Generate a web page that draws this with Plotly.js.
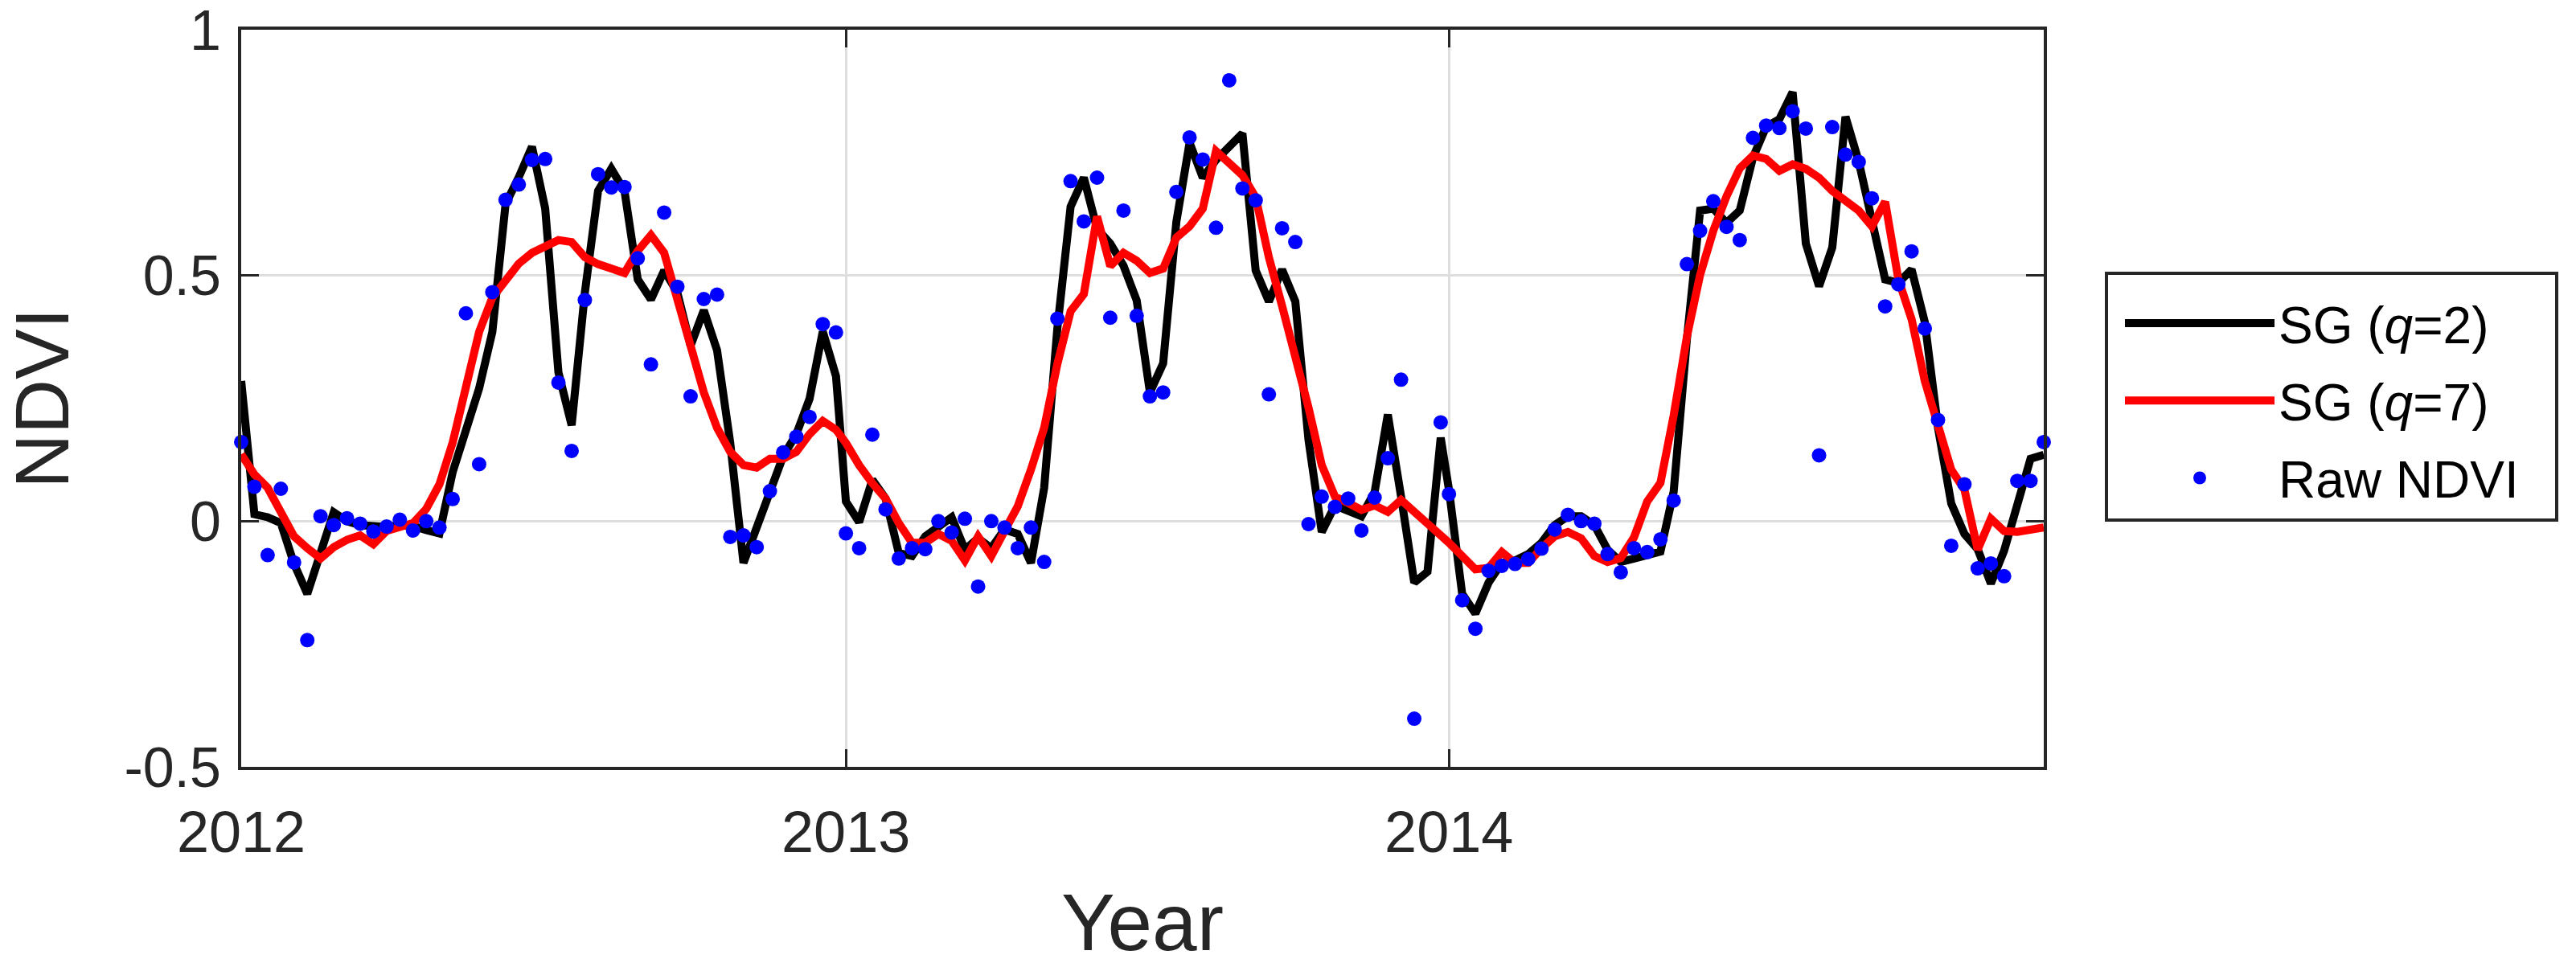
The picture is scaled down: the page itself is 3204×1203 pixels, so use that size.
<!DOCTYPE html>
<html>
<head>
<meta charset="utf-8">
<script src="https://cdn.plot.ly/plotly-3.0.1.min.js"></script>
<style>
  html, body { margin: 0; padding: 0; background: #ffffff; }
  #chart { width: 3204px; height: 1203px; }
</style>
</head>
<body>
<div id="chart"></div>
<script>
// ---- time axis: 8-day composites, 46 per year ----
const years = [2012, 2013, 2014];
const compositeStepDays = 8;
const compositesPerYear = 46;

// ---- Raw NDVI (blue dots), per year ----
const raw2012 = [0.161, 0.070, -0.069, 0.066, -0.084, -0.242, 0.010, -0.008, 0.006, -0.005,
  -0.021, -0.011, 0.003, -0.019, 0.000, -0.013, 0.045, 0.423, 0.116, 0.466,
  0.654, 0.685, 0.735, 0.737, 0.282, 0.143, 0.450, 0.706, 0.679, 0.680,
  0.535, 0.319, 0.628, 0.477, 0.254, 0.452, 0.461, -0.032, -0.029, -0.053,
  0.061, 0.140, 0.172, 0.212, 0.401, 0.384];
const raw2013 = [-0.025, -0.055, 0.176, 0.024, -0.076, -0.055, -0.057, 0.000, -0.023, 0.005,
  -0.133, 0.000, -0.013, -0.055, -0.013, -0.083, 0.412, 0.692, 0.610, 0.699,
  0.414, 0.632, 0.418, 0.254, 0.262, 0.670, 0.781, 0.736, 0.597, 0.897,
  0.677, 0.653, 0.258, 0.596, 0.568, -0.006, 0.050, 0.029, 0.046, -0.019,
  0.048, 0.128, 0.288, -0.402, null, 0.201];
const raw2014 = [0.055, -0.161, -0.219, -0.101, -0.091, -0.087, -0.077, -0.056, -0.017, 0.013,
  0.000, -0.005, -0.067, -0.104, -0.055, -0.063, -0.037, 0.042, 0.523, 0.591,
  0.651, 0.599, 0.572, 0.780, 0.805, 0.800, 0.834, 0.799, 0.134, 0.802,
  0.746, 0.731, 0.657, 0.437, 0.482, 0.549, 0.392, 0.206, -0.050, 0.075,
  -0.096, -0.086, -0.112, 0.082, 0.082, 0.161];

// ---- SG filter, q=2 (black line) ----
const sgQ2_2012 = [0.285, 0.014, 0.008, -0.004, -0.087, -0.148, -0.065, 0.018, 0.000, -0.008,
  -0.010, -0.012, -0.008, -0.010, -0.018, -0.025, 0.100, 0.190, 0.270, 0.385,
  0.645, 0.700, 0.762, 0.636, 0.303, 0.195, 0.465, 0.672, 0.717, 0.672,
  0.492, 0.451, 0.510, 0.465, 0.357, 0.429, 0.348, 0.159, -0.085, -0.013,
  0.059, 0.132, 0.177, 0.249, 0.386, 0.295];
const sgQ2_2013 = [0.040, -0.002, 0.084, 0.046, -0.065, -0.071, -0.031, -0.010, 0.008, -0.058,
  -0.035, -0.055, -0.017, -0.026, -0.085, 0.068, 0.393, 0.640, 0.699, 0.595,
  0.565, 0.520, 0.449, 0.262, 0.321, 0.609, 0.770, 0.699, 0.735, 0.762,
  0.789, 0.510, 0.447, 0.512, 0.447, 0.165, -0.022, 0.032, 0.023, 0.010,
  0.059, 0.217, 0.050, -0.125, -0.103, 0.170];
const sgQ2_2014 = [0.064, -0.148, -0.188, -0.125, -0.085, -0.080, -0.067, -0.044, -0.008, 0.010,
  0.010, -0.008, -0.058, -0.083, -0.076, -0.067, -0.062, 0.060, 0.370, 0.632,
  0.636, 0.607, 0.632, 0.740, 0.803, 0.818, 0.873, 0.565, 0.478, 0.557,
  0.823, 0.732, 0.610, 0.492, 0.485, 0.512, 0.405, 0.190, 0.036, -0.026,
  -0.057, -0.127, -0.060, 0.038, 0.127, 0.135];

// ---- SG filter, q=7 (red line) ----
const sgQ7_2012 = [0.136, 0.095, 0.068, 0.019, -0.031, -0.055, -0.076, -0.053, -0.038, -0.029,
  -0.047, -0.020, -0.011, -0.004, 0.025, 0.075, 0.160, 0.270, 0.385, 0.455,
  0.493, 0.524, 0.546, 0.560, 0.572, 0.568, 0.537, 0.523, 0.514, 0.505,
  0.550, 0.582, 0.546, 0.450, 0.350, 0.262, 0.190, 0.141, 0.114, 0.109,
  0.127, 0.127, 0.141, 0.177, 0.204, 0.186];
const sgQ7_2013 = [0.159, 0.114, 0.077, 0.046, -0.004, -0.044, -0.044, -0.026, -0.040, -0.080,
  -0.031, -0.071, -0.020, 0.030, 0.105, 0.190, 0.320, 0.427, 0.462, 0.620,
  0.519, 0.546, 0.530, 0.505, 0.514, 0.577, 0.600, 0.636, 0.753, 0.726,
  0.704, 0.659, 0.537, 0.438, 0.339, 0.231, 0.114, 0.050, 0.037, 0.023,
  0.032, 0.019, 0.043, 0.019, -0.004, -0.024];
const sgQ7_2014 = [-0.044, -0.071, -0.098, -0.095, -0.063, -0.085, -0.085, -0.055, -0.031, -0.022,
  -0.035, -0.071, -0.083, -0.075, -0.033, 0.040, 0.078, 0.215, 0.375, 0.501,
  0.591, 0.661, 0.718, 0.744, 0.737, 0.713, 0.726, 0.717, 0.699, 0.672,
  0.650, 0.632, 0.600, 0.650, 0.492, 0.411, 0.285, 0.195, 0.105, 0.064,
  -0.058, 0.005, -0.020, -0.022, -0.017, -0.013];

// ---- axis tick labels ----
const yearTickLabels = ['2012', '2013', '2014'];
const ndviTickValues = [-0.5, 0, 0.5, 1];
const ndviTickLabels = ['-0.5', '0', '0.5', '1'];

// ---- series names ----
const nameQ2 = 'SG (<i>q</i>=2)';
const nameQ7 = 'SG (<i>q</i>=7)';
const nameRaw = 'Raw NDVI';

// build composite dates (day 1, 9, 17, ... of each year)
function compositeDates(year) {
  const out = [];
  for (let k = 0; k < compositesPerYear; k++) {
    const d = new Date(Date.UTC(year, 0, 1 + compositeStepDays * k));
    out.push(d.toISOString().slice(0, 10));
  }
  return out;
}
const dates = [].concat(...years.map(compositeDates));
const rawAll = [].concat(raw2012, raw2013, raw2014);
const q2All = [].concat(sgQ2_2012, sgQ2_2013, sgQ2_2014);
const q7All = [].concat(sgQ7_2012, sgQ7_2013, sgQ7_2014);
const yearTickDates = years.map(y => y + '-01-01');

const traces = [
  { type: 'scatter', mode: 'lines', name: nameQ2, legendgroup: 'g1', x: dates, y: q2All,
    line: { color: '#000000', width: 10 }, cliponaxis: false },
  { type: 'scatter', mode: 'lines', name: nameQ7, legendgroup: 'g2', x: dates, y: q7All,
    line: { color: '#ff0000', width: 10 }, cliponaxis: false },
  { type: 'scatter', mode: 'markers', name: nameRaw, legendgroup: 'g3', x: dates, y: rawAll,
    marker: { color: '#0000ff', size: 18, line: { width: 0 } }, cliponaxis: false }
];

const axisColor = '#262626';
const gridColor = '#dedede';
const fontFamily = '"Liberation Sans", Arial, Helvetica, sans-serif';

// plot area in page pixels: x 300..2542, y 37..954
const plotW = 2242, plotH = 917, plotL = 300, plotB = 954;
const px = v => (v - plotL) / plotW;
const py = v => (plotB - v) / plotH;

const layout = {
  width: 3204, height: 1203,
  margin: { l: 300, r: 662, t: 37, b: 249, pad: 0 },
  paper_bgcolor: '#ffffff', plot_bgcolor: '#ffffff',
  font: { family: fontFamily, color: axisColor, size: 72 },
  showlegend: true,
  xaxis: {
    type: 'date',
    range: [dates[0], dates[dates.length - 1]],
    tickmode: 'array', tickvals: yearTickDates, ticktext: yearTickLabels,
    showgrid: true, gridcolor: gridColor, gridwidth: 3,
    zeroline: false,
    showline: true, linecolor: axisColor, linewidth: 4, mirror: 'ticks',
    ticks: 'inside', ticklen: 22, tickwidth: 3, tickcolor: axisColor,
    tickfont: { size: 72, color: axisColor, family: fontFamily },
    ticklabelstandoff: 16, ticklabeloverflow: 'allow',
    title: { text: 'Year', font: { size: 100, color: axisColor, family: fontFamily }, standoff: 44 },
    automargin: false
  },
  yaxis: {
    range: [-0.5, 1],
    tickmode: 'array', tickvals: ndviTickValues, ticktext: ndviTickLabels,
    showgrid: true, gridcolor: gridColor, gridwidth: 3,
    zeroline: false,
    showline: true, linecolor: axisColor, linewidth: 4, mirror: 'ticks',
    ticks: 'inside', ticklen: 22, tickwidth: 3, tickcolor: axisColor,
    tickfont: { size: 70, color: axisColor, family: fontFamily },
    ticklabelstandoff: 7, ticklabeloverflow: 'allow',
    title: { text: 'NDVI', font: { size: 94, color: axisColor, family: fontFamily }, standoff: 50 },
    automargin: false
  },
  legend: {
    x: px(2638), xanchor: 'left',
    y: py(354), yanchor: 'top',
    bgcolor: 'rgba(255,255,255,0)', borderwidth: 0,
    font: { size: 64, color: '#000000', family: fontFamily },
    itemwidth: 186, tracegroupgap: 10
  },
  shapes: [
    { type: 'rect', xref: 'paper', yref: 'paper',
      x0: px(2620), x1: px(3180), y0: py(647), y1: py(340),
      line: { color: axisColor, width: 4 }, fillcolor: 'rgba(0,0,0,0)', layer: 'above' }
  ]
};

Plotly.newPlot('chart', traces, layout, { staticPlot: true, displayModeBar: false });
</script>
</body>
</html>
